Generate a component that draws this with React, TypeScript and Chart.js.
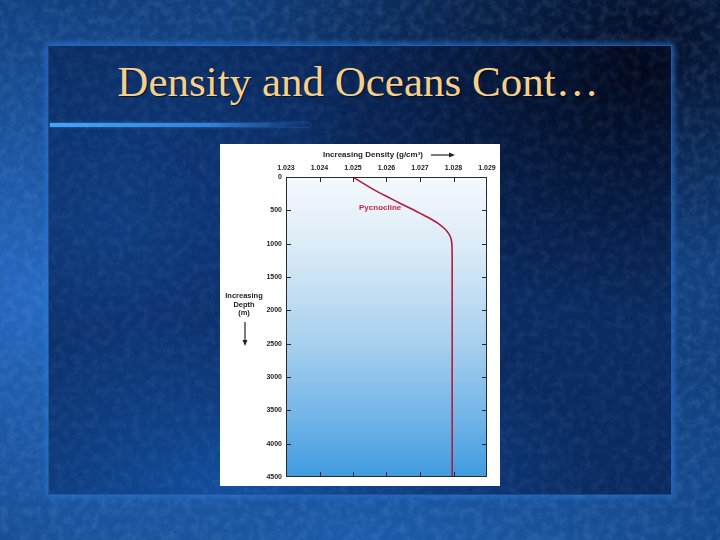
import React, { useEffect, useRef } from "react";
import { Chart, registerables } from "chart.js";

Chart.register(...registerables);

// Depth (m) and density (g/cm3) read from the profile
const depthM = [0, 100, 200, 300, 400, 500, 600, 700, 800, 900, 1000, 1200, 1500, 2000, 2500, 3000, 3500, 4000, 4500];
const densityGcm3 = [1.025, 1.02532, 1.02566, 1.02604, 1.02643, 1.02683, 1.02722, 1.02755, 1.02778, 1.02791, 1.02795, 1.02796, 1.02796, 1.02796, 1.02796, 1.02796, 1.02796, 1.02796, 1.02796];

const densityMin = 1.023;
const densityMax = 1.029;
const densityStep = 0.001;
const depthMin = 0;
const depthMax = 4500;
const depthStep = 500;

const slideTitle = "Density and Oceans Cont…";
const xAxisTitle = "Increasing Density (g/cm³)";
const yAxisTitleLines = ["Increasing", "Depth", "(m)"];
const curveLabel = "Pycnocline";
const curveLabelAt = { x: 1.02581, y: 457 };

const FONT = "'Liberation Sans', Arial, Helvetica, sans-serif";

const decor = {
  id: "decor",
  beforeDraw(chart: any) {
    const { ctx, chartArea: a } = chart;
    ctx.save();
    const g = ctx.createLinearGradient(0, a.top, 0, a.bottom);
    g.addColorStop(0, "#f5f9fd");
    g.addColorStop(0.25, "#d9eaf7");
    g.addColorStop(0.55, "#a8d0ef");
    g.addColorStop(0.8, "#72b5e8");
    g.addColorStop(1, "#3f9be0");
    ctx.fillStyle = g;
    ctx.fillRect(a.left, a.top, a.right - a.left, a.bottom - a.top);
    ctx.restore();
  },
  afterDraw(chart: any) {
    const { ctx, chartArea: a, scales } = chart;
    const xs = scales.x;
    const ys = scales.y;
    ctx.save();
    // frame
    ctx.strokeStyle = "#2a2a2a";
    ctx.lineWidth = 1;
    ctx.strokeRect(Math.round(a.left) + 0.5, Math.round(a.top) + 0.5, Math.round(a.right - a.left) - 1, Math.round(a.bottom - a.top) - 1);
    // inward tick marks
    const tl = 5;
    ctx.beginPath();
    xs.ticks.forEach((t: any, i: number) => {
      if (i === 0 || i === xs.ticks.length - 1) return;
      const px = Math.round(xs.getPixelForValue(t.value)) + 0.5;
      ctx.moveTo(px, a.top);
      ctx.lineTo(px, a.top + tl);
      ctx.moveTo(px, a.bottom);
      ctx.lineTo(px, a.bottom - tl);
    });
    ys.ticks.forEach((t: any, i: number) => {
      if (i === 0 || i === ys.ticks.length - 1) return;
      const py = Math.round(ys.getPixelForValue(t.value)) + 0.5;
      ctx.moveTo(a.left, py);
      ctx.lineTo(a.left + tl, py);
      ctx.moveTo(a.right, py);
      ctx.lineTo(a.right - tl, py);
    });
    ctx.stroke();

    // x axis title with arrow
    ctx.fillStyle = "#222";
    ctx.font = `bold 8px ${FONT}`;
    ctx.textAlign = "center";
    ctx.textBaseline = "middle";
    const tx = a.left + 87;
    const ty = a.top - 22;
    ctx.fillText(xAxisTitle, tx, ty);
    const ax0 = a.left + 145;
    const ax1 = a.left + 169;
    ctx.beginPath();
    ctx.moveTo(ax0, ty);
    ctx.lineTo(ax1 - 4, ty);
    ctx.lineWidth = 1.2;
    ctx.strokeStyle = "#222";
    ctx.stroke();
    ctx.beginPath();
    ctx.moveTo(ax1, ty);
    ctx.lineTo(ax1 - 6, ty - 2.5);
    ctx.lineTo(ax1 - 6, ty + 2.5);
    ctx.closePath();
    ctx.fill();

    // y axis title with arrow
    const cx = a.left - 42;
    ctx.font = `bold 7.5px ${FONT}`;
    yAxisTitleLines.forEach((s, i) => ctx.fillText(s, cx, a.top + 119 + i * 8.5));
    const ay0 = a.top + 145;
    const ay1 = a.top + 169;
    ctx.beginPath();
    ctx.moveTo(cx + 1, ay0);
    ctx.lineTo(cx + 1, ay1 - 4);
    ctx.stroke();
    ctx.beginPath();
    ctx.moveTo(cx + 1, ay1);
    ctx.lineTo(cx - 1.5, ay1 - 6);
    ctx.lineTo(cx + 3.5, ay1 - 6);
    ctx.closePath();
    ctx.fill();

    // curve label
    ctx.fillStyle = "#c8283f";
    ctx.font = `bold 8px ${FONT}`;
    ctx.fillText(curveLabel, xs.getPixelForValue(curveLabelAt.x), ys.getPixelForValue(curveLabelAt.y));
    ctx.restore();
  },
};

function DensityChart() {
  const ref = useRef<HTMLCanvasElement | null>(null);
  useEffect(() => {
    if (!ref.current) return;
    const points = depthM.map((d, i) => ({ x: densityGcm3[i], y: d }));
    const chart = new Chart(ref.current, {
      type: "scatter",
      data: {
        datasets: [
          {
            data: points,
            showLine: true,
            borderColor: "#b8193c",
            borderWidth: 1.6,
            pointRadius: 0,
            tension: 0.3,
            fill: false,
          },
        ],
      },
      options: {
        animation: false,
        responsive: false,
        devicePixelRatio: 1,
        layout: { padding: { top: 0, left: 0, right: 13, bottom: 9 } },
        plugins: { legend: { display: false }, tooltip: { enabled: false }, title: { display: false } },
        scales: {
          x: {
            type: "linear",
            position: "top",
            min: densityMin,
            max: densityMax,
            ticks: {
              stepSize: densityStep,
              autoSkip: false,
              maxRotation: 0,
              padding: 5,
              color: "#222",
              font: { family: FONT, size: 7, weight: "bold" },
              callback: (v: any) => Number(v).toFixed(3),
            },
            grid: { display: false, drawTicks: false },
            border: { display: false },
            afterFit: (s: any) => {
              s.height = 33;
              s.paddingLeft = 0;
              s.paddingRight = 0;
            },
          },
          y: {
            type: "linear",
            reverse: true,
            min: depthMin,
            max: depthMax,
            ticks: {
              stepSize: depthStep,
              autoSkip: false,
              padding: 4,
              color: "#222",
              font: { family: FONT, size: 7, weight: "bold" },
              callback: (v: any) => String(v),
            },
            grid: { display: false, drawTicks: false },
            border: { display: false },
            afterFit: (s: any) => {
              s.width = 66;
              s.paddingTop = 0;
              s.paddingBottom = 0;
            },
          },
        },
      },
      plugins: [decor],
    } as any);
    return () => chart.destroy();
  }, []);
  return <canvas ref={ref} width={280} height={342} style={{ display: "block", width: 280, height: 342 }} />;
}

const noise =
  "url(\"data:image/svg+xml;utf8,<svg xmlns='http://www.w3.org/2000/svg' width='720' height='540'><filter id='n'><feTurbulence type='fractalNoise' baseFrequency='0.12' numOctaves='4' seed='7'/><feColorMatrix values='0 0 0 0 0.3  0 0 0 0 0.55  0 0 0 0 0.95  0 0 0 1.3 -0.5'/></filter><rect width='100%' height='100%' filter='url(%23n)'/></svg>\")";

export default function App() {
  return (
    <div
      style={{
        position: "absolute",
        left: 0,
        top: 0,
        width: 720,
        height: 540,
        overflow: "hidden",
        background:
          "radial-gradient(ellipse 45% 55% at 5% 55%, rgba(40,110,200,0.9), rgba(40,110,200,0) 100%)," +
          "radial-gradient(ellipse 60% 45% at 90% 5%, rgba(3,12,35,0.95), rgba(3,12,35,0) 100%)," +
          "radial-gradient(ellipse 70% 40% at 50% 100%, rgba(30,95,175,0.9), rgba(30,95,175,0) 100%)," +
          "#12407f",
      }}
    >
      <div style={{ position: "absolute", inset: 0, backgroundImage: noise, opacity: 0.22 }} />
      <div
        style={{
          position: "absolute",
          left: 48,
          top: 45,
          width: 624,
          height: 450,
          boxShadow: "0 0 5px 3px rgba(45,120,215,0.55)",
          border: "1px solid rgba(60,140,230,0.45)",
          boxSizing: "border-box",
          overflow: "hidden",
          background:
            "radial-gradient(ellipse 55% 55% at 95% 5%, rgba(2,8,28,1), rgba(2,8,28,0) 100%)," +
            "radial-gradient(ellipse 60% 40% at 30% 100%, rgba(20,85,170,0.85), rgba(20,85,170,0) 100%)," +
            "radial-gradient(ellipse 40% 50% at 10% 40%, rgba(16,62,130,0.9), rgba(16,62,130,0) 100%)," +
            "#0a2a60",
        }}
      >
        <div style={{ position: "absolute", inset: 0, backgroundImage: noise, opacity: 0.14 }} />
      </div>
      <div
        style={{
          position: "absolute",
          left: 50,
          top: 123,
          width: 260,
          height: 4,
          background: "linear-gradient(90deg, rgba(70,170,255,0.95), rgba(60,150,240,0.8) 60%, rgba(40,120,220,0))",
          boxShadow: "0 0 3px rgba(60,150,255,0.6)",
        }}
      />
      <div
        style={{
          position: "absolute",
          left: 0,
          top: 60,
          width: 716,
          textAlign: "center",
          fontFamily: "'Liberation Serif', 'Times New Roman', serif",
          fontSize: 43,
          lineHeight: "43px",
          color: "#f4d08c",
          textShadow: "1px 1px 1px rgba(0,0,0,0.6)",
          whiteSpace: "nowrap",
        }}
      >
        {slideTitle}
      </div>
      <div style={{ position: "absolute", left: 220, top: 144, width: 280, height: 342, background: "#ffffff" }}>
        <DensityChart />
      </div>
    </div>
  );
}
